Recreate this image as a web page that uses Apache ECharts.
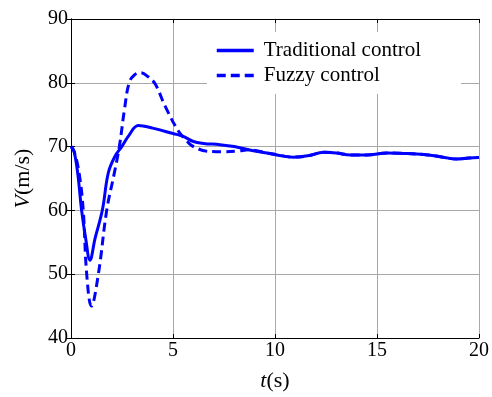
<!DOCTYPE html>
<html lang="en">
<head>
	<meta charset="UTF-8">
	<title>speed response</title>
	<script src="https://cdn.jsdelivr.net/npm/echarts@6/dist/echarts.min.js"></script>
	<style>
		html, body { margin: 0; padding: 0; background: #fff; }
		#chart { width: 492px; height: 397px; }
	</style>
</head>
<body>
	<div id="chart"></div>
	<script>
		// values
		let tTrad = [0, 0.15, 0.33, 0.52, 0.72, 0.93, 1.18, 1.54, 1.83, 2.16, 2.49, 2.85, 3.3, 4.0, 5.0, 5.5, 6.0, 6.5, 7.3, 8.0, 8.7, 9.6, 10.1, 10.9, 11.6, 12.4, 13.0, 13.7, 14.5, 15.5, 16.5, 17.5, 18.3, 18.9, 19.5, 20];
		let vTrad = [70, 69.2, 65.8, 60, 55.6, 52.2, 55.6, 60.1, 65.9, 68.5, 70, 71.8, 73.3, 72.9, 72.05, 71.6, 70.8, 70.5, 70.3, 70.0, 69.5, 69.0, 68.7, 68.35, 68.55, 69.1, 69.0, 68.7, 68.7, 69.0, 68.9, 68.7, 68.3, 68.05, 68.2, 68.3];

		let tFuzzy = [0, 0.15, 0.4, 0.6, 0.77, 1.0, 1.34, 1.75, 2.12, 2.37, 2.62, 2.85, 3.1, 3.4, 3.8, 4.13, 4.62, 5.27, 5.65, 5.9, 6.2, 6.6, 7.5, 8.2, 8.7, 9.6, 10.1, 10.9, 11.6, 12.4, 13.0, 13.7, 14.5, 15.5, 16.5, 17.5, 18.3, 18.9, 19.5, 20];
		let vFuzzy = [70, 69.3, 65.8, 60, 50, 45.0, 50, 60, 65.8, 70, 75.8, 80, 81.2, 81.6, 80.9, 79.8, 76.3, 72.4, 71.0, 70.2, 69.7, 69.3, 69.2, 69.3, 69.5, 69.0, 68.7, 68.35, 68.55, 69.1, 69.0, 68.7, 68.7, 69.0, 68.9, 68.7, 68.3, 68.05, 68.2, 68.3];

		let xTicks = [0, 5, 10, 15, 20];
		let yTicks = [40, 50, 60, 70, 80, 90];

		let font = '"Liberation Serif", "Times New Roman", serif';
		let zip = (xs, ys) => xs.map((x, i) => [x, ys[i]]);

		let chart = echarts.init(document.getElementById('chart'));
		let axisCommon = {
			type: 'value',
			axisLine: { show: true, lineStyle: { color: '#000', width: 1 } },
			axisTick: { show: true, inside: true, length: 4, lineStyle: { color: '#000' } },
			splitLine: { show: false },
			axisLabel: { show: false }
		};
		let nameStyle = {
			fontFamily: font, fontSize: 22, color: '#000',
			rich: { i: { fontFamily: font, fontSize: 22, fontStyle: 'italic', color: '#000' } }
		};
		let options = {
			animation: false,
			grid: { left: 71, top: 19, right: 13, bottom: 56 },
			legend: {
				orient: 'vertical',
				left: 207,
				top: 32,
				itemWidth: 37,
				itemHeight: 14,
				itemGap: 4,
				padding: [8, 40, 8, 8],
				backgroundColor: '#fff',
				itemStyle: { opacity: 0 },
				lineStyle: { width: 3.5 },
				textStyle: { fontFamily: font, fontSize: 21, color: '#000', padding: [0, 0, 0, 5] },
				data: ['Traditional control', 'Fuzzy control']
			},
			xAxis: [
				Object.assign({}, axisCommon, {
					min: xTicks[0], max: xTicks[xTicks.length - 1], interval: 5,
					name: '{i|t}(s)',
					nameLocation: 'middle',
					nameGap: 32,
					nameTextStyle: nameStyle,
					axisLabel: { show: true, fontFamily: font, fontSize: 20, color: '#000', margin: 3 },
					splitLine: { show: true, lineStyle: { color: '#a8a8a8', width: 1 } }
				}),
				Object.assign({}, axisCommon, {
					min: xTicks[0], max: xTicks[xTicks.length - 1], interval: 5, position: 'top'
				})
			],
			yAxis: [
				Object.assign({}, axisCommon, {
					min: yTicks[0], max: yTicks[yTicks.length - 1], interval: 10,
					name: '{i|V}(m/s)',
					nameLocation: 'middle',
					nameGap: 37,
					nameTextStyle: nameStyle,
					axisLabel: { show: true, fontFamily: font, fontSize: 20, color: '#000', margin: 3 },
					splitLine: { show: true, lineStyle: { color: '#a8a8a8', width: 1 } }
				}),
				Object.assign({}, axisCommon, {
					min: yTicks[0], max: yTicks[yTicks.length - 1], interval: 10, position: 'right'
				})
			],
			series: [
				{
					name: 'Traditional control',
					type: 'line',
					smooth: 0.4,
					symbol: 'none',
					color: '#0000ff',
					lineStyle: { color: '#0000ff', width: 3 },
					data: zip(tTrad, vTrad)
				},
				{
					name: 'Fuzzy control',
					type: 'line',
					smooth: 0.4,
					symbol: 'none',
					color: '#0000ff',
					lineStyle: { color: '#0000ff', width: 3, type: [9, 5] },
					data: zip(tFuzzy, vFuzzy)
				}
			]
		};
		chart.setOption(options);
	</script>
</body>
</html>
